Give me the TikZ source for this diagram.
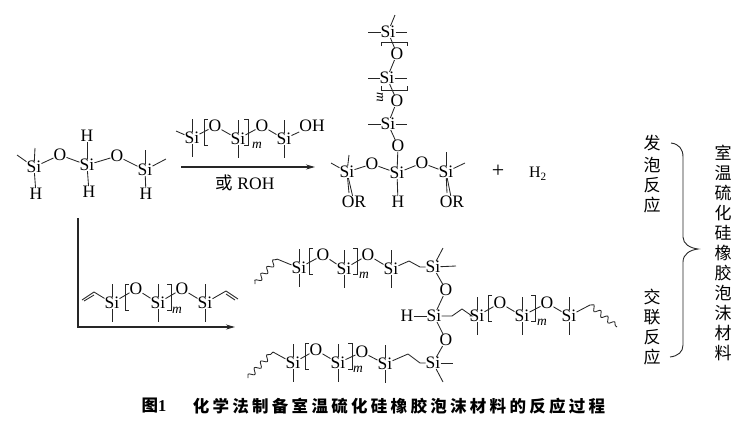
\documentclass[tikz,border=0pt]{standalone}
\usepackage{fontspec}
\setmainfont{Liberation Serif}
\newfontfamily\cjk{Noto Sans CJK SC}
\newfontfamily\cjkcap[LetterSpace=20]{Noto Sans CJK SC}
\usetikzlibrary{calc,arrows.meta,decorations.pathmorphing}

\tikzset{
	atom/.style={inner sep=0pt,font=\fontsize{17.5}{17.5}\selectfont},
	sub/.style={inner sep=0pt,font=\fontsize{13.5}{13.5}\selectfont\itshape},
	hanzi/.style={inner sep=0pt,font=\fontsize{17}{17}\selectfont\cjk},
	bond/.style={line width=0.85pt,draw=black!85},
	wave/.style={bond,decorate,decoration={snake,segment length=9pt,amplitude=2.6pt}},
	flow/.style={line width=1.1pt,draw=black!85,-{Stealth[length=9pt,width=5pt]}}
}
\newcommand{\lbrk}[2]{\draw[bond] ({#1+4},{#2-13}) -- (#1,{#2-13}) -- (#1,{#2+13}) -- ({#1+4},{#2+13});}
\newcommand{\rbrk}[2]{\draw[bond] ({#1-4},{#2-13}) -- (#1,{#2-13}) -- (#1,{#2+13}) -- ({#1-4},{#2+13});}

\begin{document}
\begin{tikzpicture}[x=1pt,y=-1pt]
\useasboundingbox (0,0) rectangle (746,424);

% Si with a methyl stub up and down
\foreach \n/\x/\y in {
	b1/192/138,b2/238/139,b3/284/139,
	d1/112/303,d2/158/303,d3/205/303,
	e1/299/268,e2/344/269,e3/391/269,
	f1/477/316,f2/522/316,f3/569/316,
	g1/293/363,g2/338/363,g3/385/364}{
	\node[atom] (\n) at (\x,\y) {Si};
	\coordinate (\n u) at (\x,\y-19);
	\coordinate (\n d) at (\x,\y+19);
	\draw[bond] (\n) -- (\n u);
	\draw[bond] (\n) -- (\n d);
}

% Si with stubs left and right
\foreach \n/\x/\y in {c1/388/32,c2/387/78,c3/388/124}{
	\node[atom] (\n) at (\x,\y) {Si};
	\coordinate (\n l) at (368,\y);
	\coordinate (\n r) at (407,\y);
	\draw[bond] (\n) -- (\n l);
	\draw[bond] (\n) -- (\n r);
}

% the other Si
\foreach \n/\x/\y in {a1/34/167,a2/87/165,a3/145/170,
	c4/347/172,c5/397/173,c6/446/172,
	h1/433/267,h2/434/316,h3/433/363}{
	\node[atom] (\n) at (\x,\y) {Si};
}

% O
\foreach \n/\x/\y in {oa1/60/155,oa2/117/156,
	ob1/215/126,ob2/262/126,
	oc1/397/54,oc2/397/101,oc3/398/146,oc4/372/164,oc5/422/163,
	od1/136/289,od2/182/289,
	oe1/323/255,oe2/368/255,
	of1/500/303,of2/547/303,
	og1/316/350,og2/362/352,
	oh1/446/290,oh2/446/340}{
	\node[atom] (\n) at (\x,\y) {O};
}

% H and other groups
\node[atom] (ha1) at (36,194) {H};
\node[atom] (ha2) at (87,136) {H};
\node[atom] (ha3) at (89,192) {H};
\node[atom] (ha4) at (146,194) {H};
\node[atom] (oh) at (312,126) {OH};
\node[atom] (orl) at (354,202) {OR};
\node[atom] (orr) at (452,202) {OR};
\node[atom] (hc) at (398,202) {H};
\node[atom] (hh) at (407,316) {H};
\node[atom,font=\fontsize{22}{22}\selectfont] (plus) at (498,171) {+};
\node[atom,font=\fontsize{16}{16}\selectfont] (htwo) at (538,174) {H$_{\mathrm{2}}$};
\node[atom] (roh) at (245,183) {{\cjk 或} ROH};

\foreach \n/\x/\y in {mb/257/145,md/177/310,me/364/275,mf/542/322,mg/358/369}{
	\node[sub] (\n) at (\x,\y) {m};
}
\node[sub,rotate=-90] (mc) at (380,97) {m};

% chains
\foreach \p/\q in {a1/oa1,oa1/a2,a2/oa2,oa2/a3,a1/ha1,a2/ha2,a2/ha3,a3/ha4,
	b1/ob1,ob1/b2,b2/ob2,ob2/b3,b3/oh,
	c1/oc1,oc1/c2,c2/oc2,oc2/c3,c3/oc3,oc3/c5,c4/oc4,oc4/c5,c5/oc5,oc5/c6,c4/orl,c5/hc,c6/orr,
	d1/od1,od1/d2,d2/od2,od2/d3,
	e1/oe1,oe1/e2,e2/oe2,oe2/e3,
	h1/oh1,oh1/h2,h2/oh2,oh2/h3,hh/h2,
	f1/of1,of1/f2,f2/of2,of2/f3,
	g1/og1,og1/g2,g2/og2,og2/g3}{
	\draw[bond] (\p) -- (\q);
}

% free ends of the stubs
\foreach \n/\m/\x/\y in {a1/s1/17/155,a1/s2/35/148,a3/s3/145/150,a3/s4/166/159,
	b1/s5/176/131,c1/s6/395/15,
	c4/s7/331/163,c4/s8/349/155,c4/s9/349/193,
	c6/s10/446/152,c6/s11/465/163,c6/s12/447/193,
	h1/s13/443/248,h1/s14/456/266,h3/s15/453/363,h3/s16/443/382}{
	\coordinate (\m) at (\x,\y);
	\draw[bond] (\n) -- (\m);
}

% brackets
\lbrk{204}{132}
\rbrk{248}{132}
\lbrk{125}{297}
\rbrk{171}{297}
\lbrk{309}{261}
\rbrk{357}{261}
\lbrk{305}{356}
\rbrk{352}{356}
\lbrk{488}{308}
\rbrk{535}{308}
\draw[bond] (381,46) -- (381,42) -- (407,42) -- (407,46);
\draw[bond] (381,86) -- (381,90) -- (407,90) -- (407,86);

% vinyl
\coordinate (v1) at (82,300);
\coordinate (v2) at (94,292);
\coordinate (v3) at (84,301);
\coordinate (v4) at (94,295);
\draw[bond] (v1) -- (v2) -- (d1);
\draw[bond] (v3) -- (v4);
\coordinate (v5) at (226,291);
\coordinate (v6) at (238,299);
\coordinate (v7) at (226,294);
\coordinate (v8) at (235,300);
\draw[bond] (d3) -- (v5) -- (v6);
\draw[bond] (v7) -- (v8);

% ethylene bridges
\coordinate (k1) at (409,261);
\coordinate (k2) at (420,267);
\coordinate (k3) at (408,354);
\coordinate (k4) at (420,363);
\coordinate (k5) at (462,309);
\coordinate (k6) at (472,316);
\coordinate (k7) at (452,316);
\draw[bond] (e3) -- (k1) -- (k2) -- (h1);
\draw[bond] (g3) -- (k3) -- (k4) -- (h3);
\draw[bond] (h2) -- (k7) -- (k5) -- (k6) -- (f1);

% wavy ends
\coordinate (w1) at (255,284);
\coordinate (w2) at (277,259);
\coordinate (w3) at (248,378);
\coordinate (w4) at (273,352);
\coordinate (w5) at (590,305);
\coordinate (w6) at (617,327);
\draw[wave] (w1) -- (w2);
\draw[bond] (w2) -- (e1);
\draw[wave] (w3) -- (w4);
\draw[bond] (w4) -- (g1);
\draw[wave] (w5) -- (w6);
\draw[bond] (f3) -- (w5);

% arrows
\coordinate (t1) at (181,167);
\coordinate (t2) at (315,167);
\draw[flow] (t1) -- (t2);
\coordinate (t3) at (78,218);
\coordinate (t4) at (78,327);
\coordinate (t5) at (235,327);
\draw[flow] (t3) -- (t4) -- (t5);

% brace
\coordinate (p1) at (671,143);
\coordinate (p2) at (683,157);
\coordinate (p3) at (683,237);
\coordinate (p4) at (698,249);
\coordinate (p5) at (683,262);
\coordinate (p6) at (683,345);
\coordinate (p7) at (670,357);
\draw[bond,line width=0.9pt] (p1) .. controls (679,144) and (683,149) .. (p2) -- (p3)
	.. controls (683,244) and (690,248) .. (p4) .. controls (690,250) and (683,254) .. (p5) -- (p6)
	.. controls (683,352) and (678,356) .. (p7);

% side labels
\foreach \n/\t/\y in {x1/发/143,x2/泡/165,x3/反/185,x4/应/205,
	x5/交/297,x6/联/317,x7/反/337,x8/应/357}{
	\node[hanzi] (\n) at (652,\y) {\t};
}
\foreach \n/\t/\y in {y1/室/153,y2/温/173,y3/硫/193,y4/化/213,y5/硅/233,y6/橡/253,
	y7/胶/273,y8/泡/293,y9/沫/313,y10/材/333,y11/料/353}{
	\node[hanzi] (\n) at (723,\y) {\t};
}

% caption
\node[hanzi,font=\fontsize{16.5}{16.5}\selectfont\cjk\bfseries] (fig) at (154,406) {图{\fontspec{Liberation Serif}1}};
\node[hanzi,font=\fontsize{16.5}{16.5}\selectfont\cjkcap\bfseries] (cap) at (399,406) {化学法制备室温硫化硅橡胶泡沫材料的反应过程};

\end{tikzpicture}
\end{document}
